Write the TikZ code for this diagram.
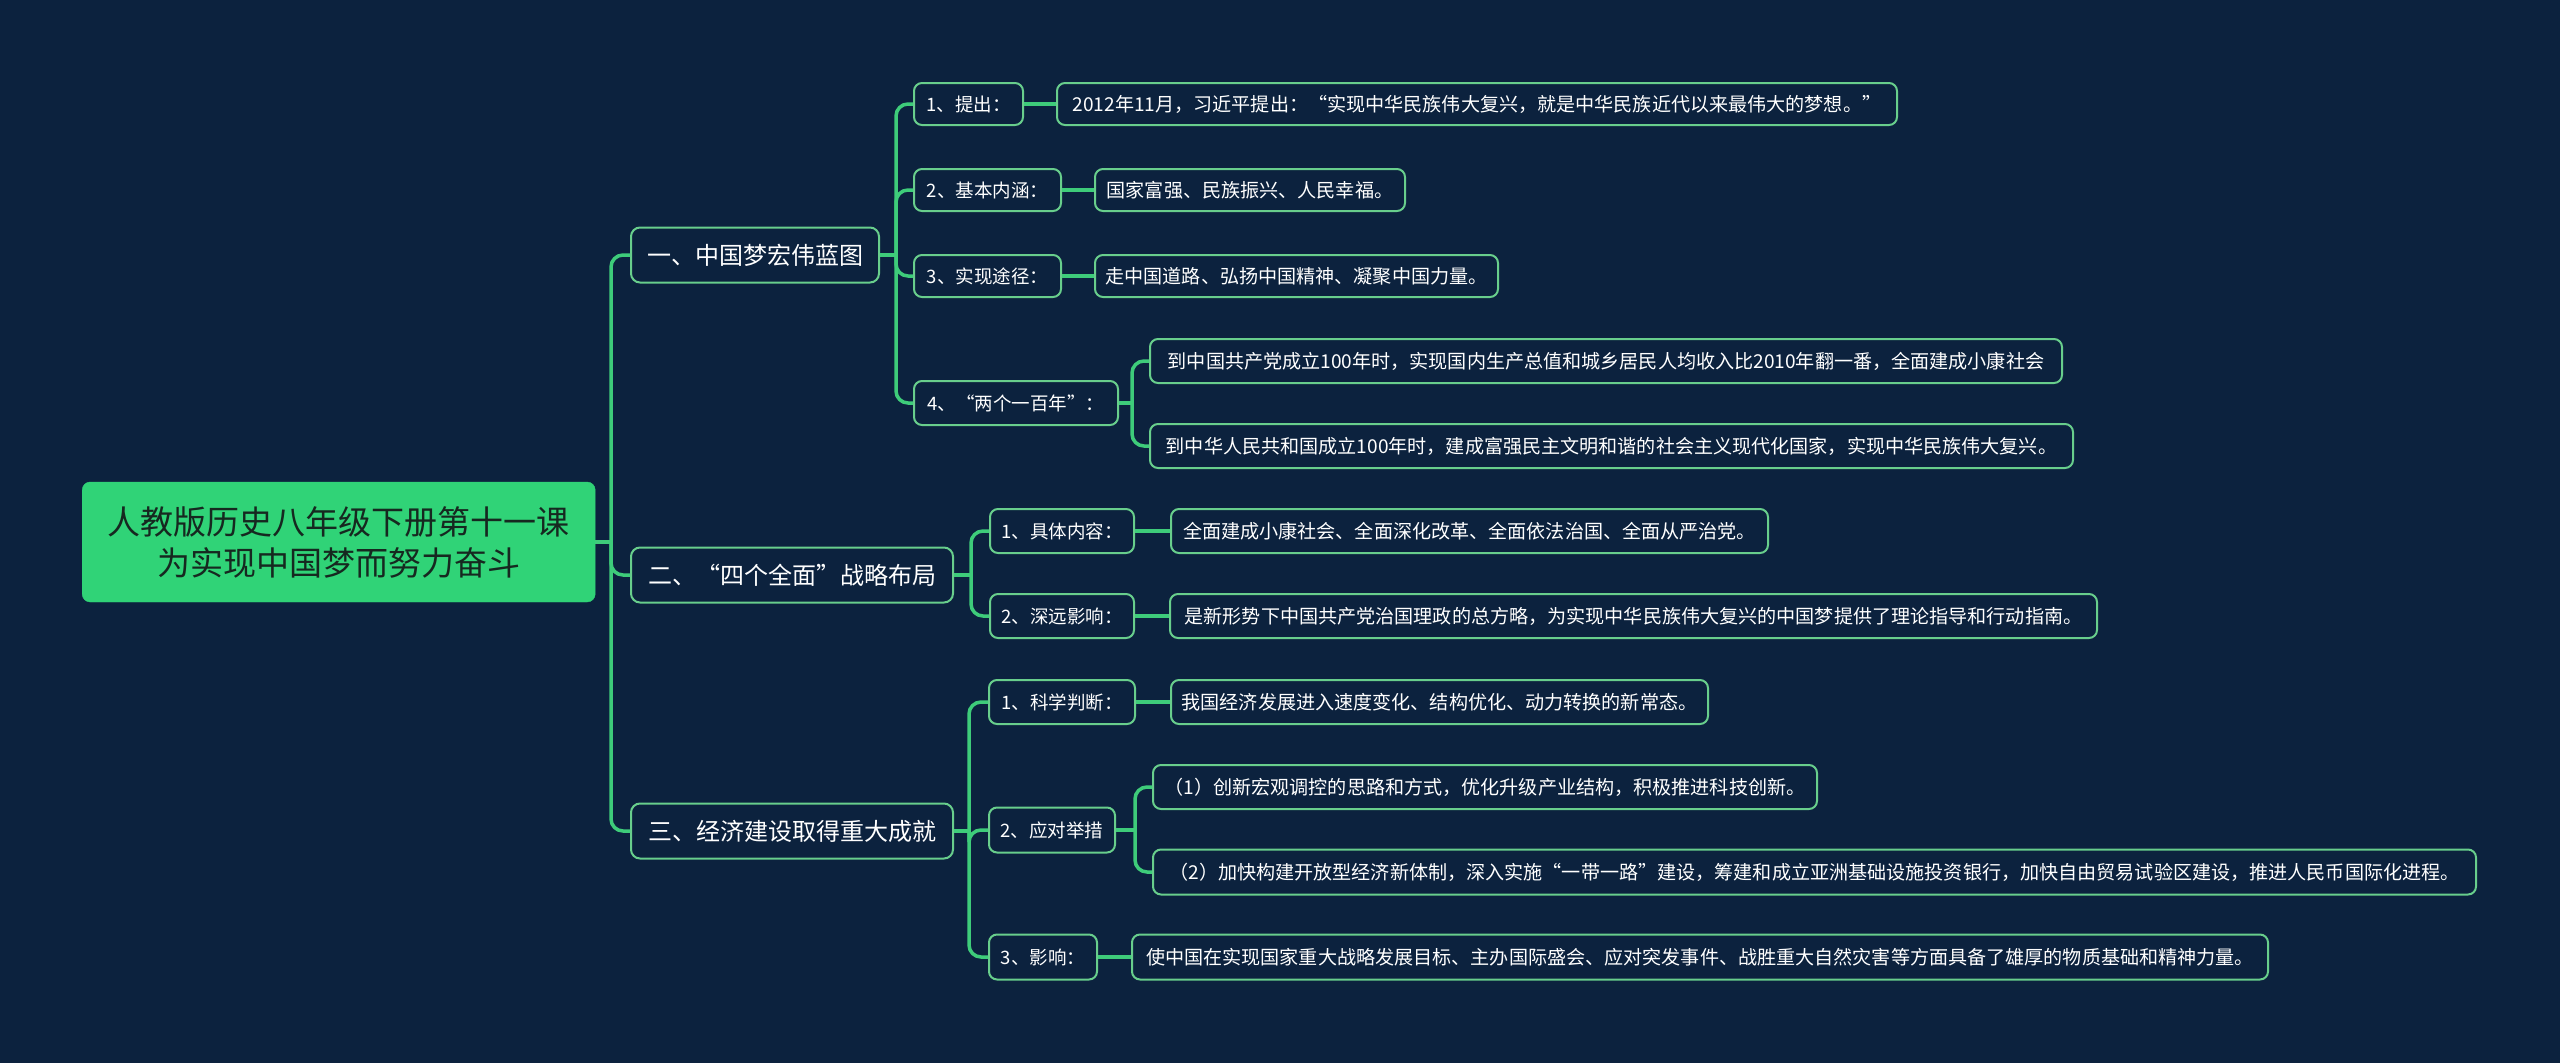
\documentclass[tikz,border=0pt]{standalone}
\usepackage{fontspec}
\setmainfont{Noto Sans CJK SC}
\definecolor{bg}{RGB}{12,34,62}
\definecolor{lineg}{RGB}{62,204,122}
\definecolor{boxg}{RGB}{104,206,140}
\definecolor{rootg}{RGB}{48,211,119}
\definecolor{roottext}{RGB}{22,40,32}
\begin{document}
\begin{tikzpicture}[x=1pt,y=-1pt,
  conn/.style={draw=lineg, line width=3.5pt},
  branchline/.style={draw=lineg, line width=3.5pt, rounded corners=12pt},
  rootbox/.style={fill=rootg, draw=rootg, rounded corners=8pt, text=roottext, align=center,
    font=\fontsize{33}{41}\selectfont, inner sep=0pt, anchor=west, minimum width=513pt, minimum height=120pt},
  lvlone/.style={draw=boxg, line width=2pt, fill=bg, rounded corners=9pt, text=white,
    font=\fontsize{24}{29}\selectfont, inner sep=0pt, anchor=west, minimum height=55pt},
  lvltwo/.style={draw=boxg, line width=2pt, fill=bg, rounded corners=8pt, text=white,
    font=\fontsize{18.5}{22}\selectfont, inner sep=0pt, anchor=west, minimum height=42pt},
  leaf/.style={lvltwo, font=\fontsize{19.1}{23}\selectfont}]
\fill[bg] (0,0) rectangle (2560,1063);
\useasboundingbox (0,0) rectangle (2560,1063);

% bus coordinates
\coordinate (busR) at (611,0);
\coordinate (busA) at (896,0);
\coordinate (busA4) at (1132,0);
\coordinate (busB) at (971,0);
\coordinate (busC) at (969,0);
\coordinate (busC2) at (1135,0);

% root
\node[rootbox] (root) at (82,542) {人教版历史八年级下册第十一课\\为实现中国梦而努力奋斗};

% level 1
\node[lvlone, minimum width=248pt] (l1a) at (630,255) {一、中国梦宏伟蓝图};
\node[lvlone, minimum width=322pt] (l1b) at (630,575) {二、“四个全面”战略布局};
\node[lvlone, minimum width=322pt] (l1c) at (630,831) {三、经济建设取得重大成就};

% level 2 under A
\node[lvltwo, minimum width=109pt] (a1) at (913,104) {1、提出：};
\node[lvltwo, minimum width=147pt] (a2) at (913,190) {2、基本内涵：};
\node[lvltwo, minimum width=147pt] (a3) at (913,276) {3、实现途径：};
\node[lvltwo, minimum width=204pt, minimum height=44pt] (a4) at (913,403) {4、“两个一百年”：};

\node[leaf, minimum width=840pt] (a1l) at (1056,104) {2012年11月，习近平提出：“实现中华民族伟大复兴，就是中华民族近代以来最伟大的梦想。”};
\node[leaf, minimum width=310pt] (a2l) at (1094,190) {国家富强、民族振兴、人民幸福。};
\node[leaf, minimum width=403pt] (a3l) at (1094,276) {走中国道路、弘扬中国精神、凝聚中国力量。};
\node[leaf, minimum width=912pt, minimum height=44pt] (a4a) at (1149,361) {到中国共产党成立100年时，实现国内生产总值和城乡居民人均收入比2010年翻一番，全面建成小康社会};
\node[leaf, minimum width=923pt, minimum height=44pt] (a4b) at (1149,446) {到中华人民共和国成立100年时，建成富强民主文明和谐的社会主义现代化国家，实现中华民族伟大复兴。};

% level 2 under B
\node[lvltwo, minimum width=144pt, minimum height=44pt] (b1) at (989,531) {1、具体内容：};
\node[lvltwo, minimum width=144pt, minimum height=44pt] (b2) at (989,616) {2、深远影响：};
\node[leaf, minimum width=597pt, minimum height=44pt] (b1l) at (1170,531) {全面建成小康社会、全面深化改革、全面依法治国、全面从严治党。};
\node[leaf, minimum width=927pt, minimum height=44pt] (b2l) at (1169,616) {是新形势下中国共产党治国理政的总方略，为实现中华民族伟大复兴的中国梦提供了理论指导和行动指南。};

% level 2 under C
\node[lvltwo, minimum width=146pt, minimum height=44pt] (c1) at (988,702) {1、科学判断：};
\node[lvltwo, minimum width=126pt, minimum height=45pt] (c2) at (988,830) {2、应对举措};
\node[lvltwo, minimum width=108pt, minimum height=45pt] (c3) at (988,957) {3、影响：};
\node[leaf, minimum width=537pt, minimum height=44pt] (c1l) at (1170,702) {我国经济发展进入速度变化、结构优化、动力转换的新常态。};
\node[leaf, minimum width=664pt, minimum height=44pt] (c2a) at (1152,787) {（1）创新宏观调控的思路和方式，优化升级产业结构，积极推进科技创新。};
\node[leaf, minimum width=1323pt, minimum height=45pt] (c2b) at (1152,872) {（2）加快构建开放型经济新体制，深入实施“一带一路”建设，筹建和成立亚洲基础设施投资银行，加快自由贸易试验区建设，推进人民币国际化进程。};
\node[leaf, minimum width=1136pt, minimum height=45pt] (c3l) at (1131,957) {使中国在实现国家重大战略发展目标、主办国际盛会、应对突发事件、战胜重大自然灾害等方面具备了雄厚的物质基础和精神力量。};

% connectors: root
\draw[conn] (root.east) -- (root.east -| busR);
\draw[branchline] (root.east -| busR) |- (l1a.west);
\draw[branchline] (root.east -| busR) |- (l1b.west);
\draw[branchline] (root.east -| busR) |- (l1c.west);
% A
\draw[conn] (l1a.east) -- (l1a.east -| busA);
\draw[branchline] (l1a.east -| busA) |- (a1.west);
\draw[branchline] (l1a.east -| busA) |- (a2.west);
\draw[branchline] (l1a.east -| busA) |- (a3.west);
\draw[branchline] (l1a.east -| busA) |- (a4.west);
\draw[conn] (a1.east) -- (a1l.west);
\draw[conn] (a2.east) -- (a2l.west);
\draw[conn] (a3.east) -- (a3l.west);
\draw[conn] (a4.east) -- (a4.east -| busA4);
\draw[branchline] (a4.east -| busA4) |- (a4a.west);
\draw[branchline] (a4.east -| busA4) |- (a4b.west);
% B
\draw[conn] (l1b.east) -- (l1b.east -| busB);
\draw[branchline] (l1b.east -| busB) |- (b1.west);
\draw[branchline] (l1b.east -| busB) |- (b2.west);
\draw[conn] (b1.east) -- (b1l.west);
\draw[conn] (b2.east) -- (b2l.west);
% C
\draw[conn] (l1c.east) -- (l1c.east -| busC);
\draw[branchline] (l1c.east -| busC) |- (c1.west);
\draw[branchline] (l1c.east -| busC) |- (c2.west);
\draw[branchline] (l1c.east -| busC) |- (c3.west);
\draw[conn] (c1.east) -- (c1l.west);
\draw[conn] (c3.east) -- (c3l.west);
\draw[conn] (c2.east) -- (c2.east -| busC2);
\draw[branchline] (c2.east -| busC2) |- (c2a.west);
\draw[branchline] (c2.east -| busC2) |- (c2b.west);
\end{tikzpicture}
\end{document}
